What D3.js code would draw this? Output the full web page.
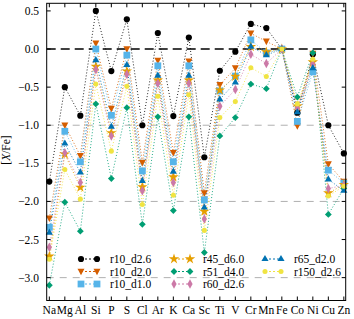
<html lang="en">
<head>
<meta charset="utf-8">
<style>
  body { margin: 0; background: #fff; }
  text { font-family: "Liberation Serif", "DejaVu Serif", serif; }
</style>
</head>
<body>
<script type='text/javascript' src='https://d3js.org/d3.v7.min.js'></script>
<script>
    var elements = ["Na","Mg","Al","Si","P","S","Cl","Ar","K","Ca","Sc","Ti","V","Cr","Mn","Fe","Co","Ni","Cu","Zn"];
    var yTicks = [0.5, 0.0, -0.5, -1.0, -1.5, -2.0, -2.5, -3.0];
    var seriesNames = ["r10_d2.6","r10_d2.0","r10_d1.0","r45_d6.0","r51_d4.0","r60_d2.6","r65_d2.0","r150_d2.6"];

    var r10_d26  = [-1.74,-0.50,-0.875, 0.50,-0.29, 0.39,-1.00, 0.21,-0.88, 0.15,-1.42,-0.285,-0.035, 0.33, 0.275,0,-0.835,-0.07,-1.00,-1.37];
    var r10_d20  = [-2.22,-1.00,-1.40, 0.075,-0.78, 0.00,-1.49,-0.15,-1.36,-0.16,-1.89,-0.47,-0.25, 0.205, 0.10,0,-1.01,-0.06,-1.51,-1.74];
    var r10_d10  = [-2.34,-1.08,-1.48, 0.00,-0.87,-0.08,-1.60,-0.22,-1.48,-0.22,-1.98,-0.55,-0.355, 0.12,-0.05,0,-0.95,-0.30,-1.59,-1.76];
    var r45_d60  = [-2.72,-1.38,-1.815,-0.23,-1.10,-0.29,-1.81,-0.41,-1.68,-0.41,-2.13,-0.54,-0.36, 0.03,-0.04,0,-0.75,-0.17,-1.89,-1.78];
    var r51_d40  = [-3.10,-2.01,-2.39,-0.72,-1.70,-0.77,-2.30,-0.89,-2.12,-0.89,-2.67,-1.14,-0.90,-0.46,-0.52,0,-0.63,-0.05,-2.17,-1.83];
    var r60_d26  = [-2.60,-1.36,-1.75,-0.27,-1.14,-0.33,-1.86,-0.45,-1.75,-0.45,-2.23,-0.75,-0.53,-0.07,-0.19,0,-0.78,-0.20,-1.83,-1.79];
    var r65_d20  = [-2.41,-1.24,-1.62,-0.145,-1.02,-0.21,-1.73,-0.35,-1.61,-0.35,-2.08,-0.66,-0.44, 0.03,-0.08,0,-0.83,-0.25,-1.71,-1.86];
    var r150_d26 = [-2.76,-1.58,-1.97,-0.46,-1.34,-0.49,-2.04,-0.62,-1.92,-0.60,-2.38,-0.90,-0.69,-0.245,-0.36,0,-0.72,-0.135,-1.93,-1.80];

    var seriesValues = [r10_d26, r10_d20, r10_d10, r45_d60, r51_d40, r60_d26, r65_d20, r150_d26];
    var colors = ["#000000","#D55E00","#56B4E9","#E69F00","#009E73","#CC79A7","#0072B2","#F0E442"];

    // thin diamond for r60
    var thinDiamond = {
        draw: function(ctx, size) {
            var h = Math.sqrt(size) * 0.75, w = h * 0.55;
            ctx.moveTo(0, -h); ctx.lineTo(w, 0); ctx.lineTo(0, h); ctx.lineTo(-w, 0); ctx.closePath();
        }
    };
    // regular diamond (rotated square) for r51
    var fatDiamond = {
        draw: function(ctx, size) {
            var h = Math.sqrt(size) * 0.62;
            ctx.moveTo(0, -h); ctx.lineTo(h, 0); ctx.lineTo(0, h); ctx.lineTo(-h, 0); ctx.closePath();
        }
    };
    var triDown = {
        draw: function(ctx, size) {
            var s = Math.sqrt(size) * 1.1;
            ctx.moveTo(-s / 2, -s * 0.4); ctx.lineTo(s / 2, -s * 0.4); ctx.lineTo(0, s * 0.55); ctx.closePath();
        }
    };
    var markers = [
        d3.symbol().type(d3.symbolCircle).size(30),
        d3.symbol().type(triDown).size(40),
        d3.symbol().type(d3.symbolSquare).size(46),
        d3.symbol().type(d3.symbolStar).size(34),
        d3.symbol().type(fatDiamond).size(30),
        d3.symbol().type(thinDiamond).size(40),
        d3.symbol().type(d3.symbolTriangle).size(22),
        d3.symbol().type(d3.symbolCircle).size(20)
    ];

    var width = 354, height = 319;
    var pLeft = 46.7, pRight = 345.7, pTop = 3.3, pBottom = 300.5;

    var x = d3.scaleLinear().domain([-0.17, 19.12]).range([pLeft, pRight]);
    var y = d3.scaleLinear().domain([-3.3, 0.6]).range([pBottom, pTop]);

    var svg = d3.select("body").append("svg")
        .attr("width", width)
        .attr("height", height);

    // reference lines
    [-1, -2, -3].forEach(function(v) {
        svg.append("line")
            .attr("x1", pLeft).attr("x2", pRight)
            .attr("y1", y(v)).attr("y2", y(v))
            .attr("stroke", "#b0b0b0").attr("stroke-width", 1)
            .attr("stroke-dasharray", "7,6");
    });
    svg.append("line")
        .attr("x1", pLeft).attr("x2", pRight)
        .attr("y1", y(0)).attr("y2", y(0))
        .attr("stroke", "#000").attr("stroke-width", 1.5)
        .attr("stroke-dasharray", "9,5");

    var line = d3.line()
        .x(function(d, i) { return x(i); })
        .y(function(d) { return y(d); });

    seriesValues.forEach(function(vals, k) {
        svg.append("path")
            .attr("d", line(vals))
            .attr("fill", "none")
            .attr("stroke", colors[k])
            .attr("stroke-width", 1)
            .attr("stroke-dasharray", "1,2")
            .attr("opacity", 0.85);
    });
    seriesValues.forEach(function(vals, k) {
        svg.append("g").selectAll("path")
            .data(vals)
            .enter().append("path")
            .attr("d", markers[k])
            .attr("transform", function(d, i) { return "translate(" + x(i) + "," + y(d) + ")"; })
            .attr("fill", colors[k]);
    });

    // frame
    svg.append("rect")
        .attr("x", pLeft).attr("y", pTop)
        .attr("width", pRight - pLeft).attr("height", pBottom - pTop)
        .attr("fill", "none").attr("stroke", "#000").attr("stroke-width", 1);

    // ticks, inward on all sides
    var tl = 4;
    elements.forEach(function(e, i) {
        svg.append("line").attr("x1", x(i)).attr("x2", x(i)).attr("y1", pBottom).attr("y2", pBottom - tl).attr("stroke", "#000");
        svg.append("line").attr("x1", x(i)).attr("x2", x(i)).attr("y1", pTop).attr("y2", pTop + tl).attr("stroke", "#000");
        svg.append("text")
            .attr("x", x(i)).attr("y", 314)
            .attr("text-anchor", "middle")
            .attr("font-size", 11.5)
            .text(e);
    });
    yTicks.forEach(function(v) {
        svg.append("line").attr("x1", pLeft).attr("x2", pLeft + tl).attr("y1", y(v)).attr("y2", y(v)).attr("stroke", "#000");
        svg.append("line").attr("x1", pRight).attr("x2", pRight - tl).attr("y1", y(v)).attr("y2", y(v)).attr("stroke", "#000");
        svg.append("text")
            .attr("x", 39).attr("y", y(v) + 4)
            .attr("text-anchor", "end")
            .attr("font-size", 11.5)
            .text(d3.format(".1f")(v).replace("-", "\u2212"));
    });

    var ylab = svg.append("text")
        .attr("transform", "translate(10,150) rotate(-90)")
        .attr("text-anchor", "middle")
        .attr("font-size", 11.5);
    ylab.append("tspan").text("[");
    ylab.append("tspan").attr("font-style", "italic").text("X");
    ylab.append("tspan").text("/Fe]");

    // legend: 3 columns
    var legCols = [81, 174, 265];
    var legRows = [259, 271.5, 284];
    seriesNames.forEach(function(name, k) {
        var col = Math.floor(k / 3), row = k % 3;
        var lx = legCols[col], ly = legRows[row];
        svg.append("line")
            .attr("x1", lx).attr("x2", lx + 16)
            .attr("y1", ly).attr("y2", ly)
            .attr("stroke", colors[k]).attr("stroke-width", 1)
            .attr("stroke-dasharray", "2,2");
        [lx, lx + 16].forEach(function(px) {
            svg.append("path")
                .attr("d", markers[k])
                .attr("transform", "translate(" + px + "," + ly + ")")
                .attr("fill", colors[k]);
        });
        svg.append("text")
            .attr("x", lx + 29).attr("y", ly + 4)
            .attr("font-size", 11.5)
            .text(name);
    });
</script>
</body>
</html>
